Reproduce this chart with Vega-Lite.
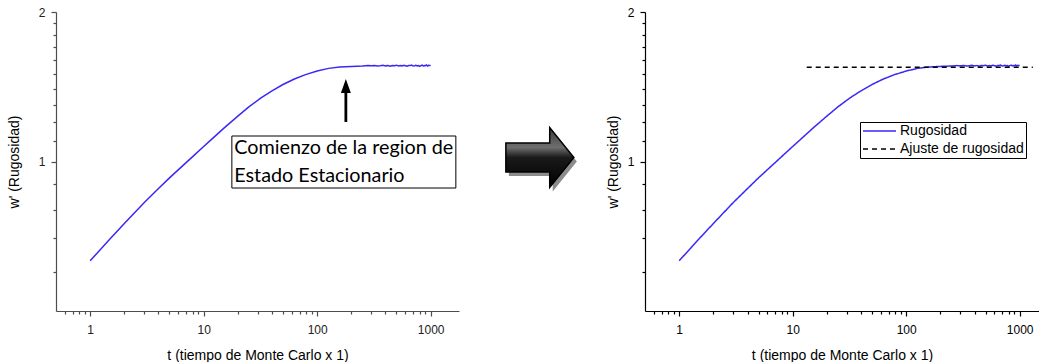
{
  "$schema": "https://vega.github.io/schema/vega-lite/v6.json",
  "autosize": "pad",
  "padding": {"left": 7, "top": 6, "right": 0, "bottom": 0},
  "bounds": "flush",
  "spacing": 186,
  "background": "white",
  "config": {
    "view": {"stroke": null},
    "font": "Liberation Sans",
    "axis": {
      "grid": false,
      "labelFont": "Liberation Sans",
      "titleFont": "Liberation Sans",
      "labelFontSize": 12,
      "titleFontSize": 14,
      "titleFontWeight": "normal",
      "labelColor": "#000000",
      "titleColor": "#000000",
      "domainColor": "#000000",
      "tickColor": "#000000",
      "domainWidth": 1.2,
      "tickWidth": 1.2,
      "labelOverlap": false,
      "labelFlush": false
    }
  },
  "datasets": {
    "w": [
      {"t": 1, "w": 0.631, "s": "Rugosidad"},
      {"t": 1.5, "w": 0.699, "s": "Rugosidad"},
      {"t": 2, "w": 0.75, "s": "Rugosidad"},
      {"t": 3, "w": 0.827, "s": "Rugosidad"},
      {"t": 4, "w": 0.882, "s": "Rugosidad"},
      {"t": 5, "w": 0.927, "s": "Rugosidad"},
      {"t": 6, "w": 0.963, "s": "Rugosidad"},
      {"t": 8, "w": 1.023, "s": "Rugosidad"},
      {"t": 10, "w": 1.072, "s": "Rugosidad"},
      {"t": 12, "w": 1.113, "s": "Rugosidad"},
      {"t": 15, "w": 1.166, "s": "Rugosidad"},
      {"t": 20, "w": 1.234, "s": "Rugosidad"},
      {"t": 25, "w": 1.288, "s": "Rugosidad"},
      {"t": 32, "w": 1.343, "s": "Rugosidad"},
      {"t": 40, "w": 1.388, "s": "Rugosidad"},
      {"t": 50, "w": 1.429, "s": "Rugosidad"},
      {"t": 63, "w": 1.466, "s": "Rugosidad"},
      {"t": 79, "w": 1.496, "s": "Rugosidad"},
      {"t": 100, "w": 1.521, "s": "Rugosidad"},
      {"t": 126, "w": 1.54, "s": "Rugosidad"},
      {"t": 158, "w": 1.55, "s": "Rugosidad"},
      {"t": 200, "w": 1.554, "s": "Rugosidad"},
      {"t": 251, "w": 1.557, "s": "Rugosidad"},
      {"t": 280, "w": 1.56, "s": "Rugosidad"},
      {"t": 300, "w": 1.558, "s": "Rugosidad"},
      {"t": 320, "w": 1.561, "s": "Rugosidad"},
      {"t": 340, "w": 1.557, "s": "Rugosidad"},
      {"t": 360, "w": 1.559, "s": "Rugosidad"},
      {"t": 380, "w": 1.562, "s": "Rugosidad"},
      {"t": 400, "w": 1.558, "s": "Rugosidad"},
      {"t": 420, "w": 1.56, "s": "Rugosidad"},
      {"t": 440, "w": 1.556, "s": "Rugosidad"},
      {"t": 460, "w": 1.561, "s": "Rugosidad"},
      {"t": 480, "w": 1.559, "s": "Rugosidad"},
      {"t": 500, "w": 1.563, "s": "Rugosidad"},
      {"t": 520, "w": 1.557, "s": "Rugosidad"},
      {"t": 540, "w": 1.56, "s": "Rugosidad"},
      {"t": 560, "w": 1.558, "s": "Rugosidad"},
      {"t": 580, "w": 1.562, "s": "Rugosidad"},
      {"t": 600, "w": 1.559, "s": "Rugosidad"},
      {"t": 620, "w": 1.556, "s": "Rugosidad"},
      {"t": 640, "w": 1.561, "s": "Rugosidad"},
      {"t": 660, "w": 1.56, "s": "Rugosidad"},
      {"t": 680, "w": 1.564, "s": "Rugosidad"},
      {"t": 700, "w": 1.557, "s": "Rugosidad"},
      {"t": 720, "w": 1.559, "s": "Rugosidad"},
      {"t": 740, "w": 1.562, "s": "Rugosidad"},
      {"t": 760, "w": 1.558, "s": "Rugosidad"},
      {"t": 780, "w": 1.561, "s": "Rugosidad"},
      {"t": 800, "w": 1.555, "s": "Rugosidad"},
      {"t": 820, "w": 1.56, "s": "Rugosidad"},
      {"t": 840, "w": 1.563, "s": "Rugosidad"},
      {"t": 860, "w": 1.558, "s": "Rugosidad"},
      {"t": 880, "w": 1.561, "s": "Rugosidad"},
      {"t": 900, "w": 1.559, "s": "Rugosidad"},
      {"t": 920, "w": 1.564, "s": "Rugosidad"},
      {"t": 940, "w": 1.557, "s": "Rugosidad"},
      {"t": 960, "w": 1.562, "s": "Rugosidad"},
      {"t": 980, "w": 1.56, "s": "Rugosidad"},
      {"t": 1000, "w": 1.561, "s": "Rugosidad"},
      {"t": 13.3, "w": 1.548, "s": "Ajuste de rugosidad"},
      {"t": 1306, "w": 1.548, "s": "Ajuste de rugosidad"}
    ],
    "box": [
      {"t": 17.72, "t2": 1667, "w": 1.1255, "w2": 0.8843}
    ],
    "note": [
      {"t": 18.6, "w": 1.0646, "label": "Comienzo de la region de"},
      {"t": 18.6, "w": 0.935, "label": "Estado Estacionario"}
    ],
    "shaft": [
      {"t": 179, "w": 1.2012, "w2": 1.385}
    ],
    "head": [
      {"t": 179, "w": 1.419}
    ],
    "shadow": [
      {"t": 9739, "w": 1.0}
    ],
    "bigArrow": [
      {"t": 9165, "w": 1.0187}
    ]
  },
  "hconcat": [
    {
      "width": 403,
      "height": 299,
      "encoding": {
        "x": {
          "field": "t", "type": "quantitative",
          "scale": {"type": "log", "domain": [0.5, 1777]},
          "axis": {
            "title": "t (tiempo de Monte Carlo x 1)",
            "values": [0.6, 0.7, 0.8, 0.9, 1, 2, 3, 4, 5, 6, 7, 8, 9, 10, 20, 30, 40, 50, 60, 70, 80, 90, 100, 200, 300, 400, 500, 600, 700, 800, 900, 1000],
            "format": "d",
            "labelExpr": "(datum.value == 1 || datum.value == 10 || datum.value == 100 || datum.value == 1000) ? datum.label : ''",
            "tickSize": {"condition": {"test": "datum.value == 1 || datum.value == 10 || datum.value == 100 || datum.value == 1000", "value": 5}, "value": 3},
            "labelPadding": 8,
            "titlePadding": 13,
            "domainColor": "#4d4d4d",
            "tickColor": "#4d4d4d",
            "labelColor": "#222222"
          }
        },
        "y": {
          "field": "w", "type": "quantitative",
          "scale": {"type": "log", "domain": [0.5, 2]},
          "axis": {
            "title": "w' (Rugosidad)",
            "values": [0.6, 0.7, 0.8, 0.9, 1, 1.1, 1.2, 1.3, 1.4, 1.5, 1.6, 1.7, 1.8, 1.9, 2],
            "labelExpr": "(datum.value == 1 || datum.value == 2) ? datum.label : ''",
            "tickSize": {"condition": {"test": "datum.value == 1 || datum.value == 2", "value": 5}, "value": 3},
            "labelPadding": 6,
            "titlePadding": 17,
            "domainColor": "#4d4d4d",
            "tickColor": "#4d4d4d",
            "labelColor": "#222222"
          }
        }
      },
      "layer": [
        {
          "data": {"name": "w"},
          "transform": [{"filter": "datum.s == 'Rugosidad'"}],
          "mark": {"type": "line", "color": "#3a28f5", "strokeWidth": 1.5}
        },
        {
          "data": {"name": "box"},
          "mark": {"type": "rect", "fill": "white", "stroke": "#000000", "strokeWidth": 1},
          "encoding": {
            "x2": {"field": "t2"},
            "y2": {"field": "w2"}
          }
        },
        {
          "data": {"name": "note"},
          "mark": {"type": "text", "font": "Lato", "fontSize": 19.8, "align": "left", "baseline": "middle", "color": "#000000"},
          "encoding": {
            "text": {"field": "label"}
          }
        },
        {
          "data": {"name": "shaft"},
          "mark": {"type": "rule", "color": "#000000", "strokeWidth": 2.8},
          "encoding": {
            "y2": {"field": "w2"}
          }
        },
        {
          "data": {"name": "head"},
          "mark": {"type": "point", "shape": "M0,-1L0.71,1L-0.71,1Z", "size": 196, "filled": true, "fill": "#000000", "opacity": 1}
        },
        {
          "data": {"name": "shadow"},
          "mark": {"type": "point", "shape": "M-1,-0.43L0.29,-0.43L0.29,-0.88L1,0L0.29,0.88L0.29,0.43L-1,0.43Z", "size": 4624, "filled": true, "fill": "#8c8c8c", "opacity": 1}
        },
        {
          "data": {"name": "bigArrow"},
          "mark": {
            "type": "point",
            "shape": "M-1,-0.43L0.29,-0.43L0.29,-0.88L1,0L0.29,0.88L0.29,0.43L-1,0.43Z",
            "size": 4624,
            "filled": true,
            "opacity": 1,
            "fill": {
              "gradient": "linear", "x1": 0, "y1": 0, "x2": 0, "y2": 1,
              "stops": [
                {"offset": 0, "color": "#3a3a3a"},
                {"offset": 0.33, "color": "#6e6e6e"},
                {"offset": 0.5, "color": "#1a1a1a"},
                {"offset": 1, "color": "#000000"}
              ]
            },
            "stroke": "#000000",
            "strokeWidth": 1.5
          }
        }
      ]
    },
    {
      "width": 394,
      "height": 299,
      "data": {"name": "w"},
      "mark": {"type": "line", "strokeWidth": 1.5},
      "encoding": {
        "x": {
          "field": "t", "type": "quantitative",
          "scale": {"type": "log", "domain": [0.5, 1480]},
          "axis": {
            "title": "t (tiempo de Monte Carlo x 1)",
            "values": [0.6, 0.7, 0.8, 0.9, 1, 2, 3, 4, 5, 6, 7, 8, 9, 10, 20, 30, 40, 50, 60, 70, 80, 90, 100, 200, 300, 400, 500, 600, 700, 800, 900, 1000],
            "format": "d",
            "labelExpr": "(datum.value == 1 || datum.value == 10 || datum.value == 100 || datum.value == 1000) ? datum.label : ''",
            "tickSize": {"condition": {"test": "datum.value == 1 || datum.value == 10 || datum.value == 100 || datum.value == 1000", "value": 5}, "value": 3},
            "labelPadding": 8,
            "titlePadding": 13
          }
        },
        "y": {
          "field": "w", "type": "quantitative",
          "scale": {"type": "log", "domain": [0.5, 2]},
          "axis": {
            "title": "w' (Rugosidad)",
            "values": [0.6, 0.7, 0.8, 0.9, 1, 1.1, 1.2, 1.3, 1.4, 1.5, 1.6, 1.7, 1.8, 1.9, 2],
            "labelExpr": "(datum.value == 1 || datum.value == 2) ? datum.label : ''",
            "tickSize": {"condition": {"test": "datum.value == 1 || datum.value == 2", "value": 5}, "value": 3},
            "labelPadding": 6,
            "titlePadding": 7
          }
        },
        "color": {
          "field": "s", "type": "nominal",
          "scale": {"domain": ["Rugosidad", "Ajuste de rugosidad"], "range": ["#3a28f5", "#000000"]},
          "legend": {
            "orient": "none", "legendX": 804, "legendY": 110, "title": null,
            "symbolType": "stroke", "symbolSize": 1089, "symbolStrokeWidth": 1.5,
            "clipHeight": 14,
            "labelFont": "Liberation Sans", "labelFontSize": 14, "labelColor": "#000000",
            "labelOffset": 3, "rowPadding": 4, "padding": 2,
            "strokeColor": "#000000", "fillColor": "white"
          }
        },
        "strokeDash": {
          "field": "s", "type": "nominal",
          "scale": {"domain": ["Rugosidad", "Ajuste de rugosidad"], "range": [[1, 0], [5, 4]]},
          "legend": {
            "orient": "none", "legendX": 804, "legendY": 110, "title": null,
            "symbolType": "stroke", "symbolSize": 1089, "symbolStrokeWidth": 1.5,
            "clipHeight": 14,
            "labelFont": "Liberation Sans", "labelFontSize": 14, "labelColor": "#000000",
            "labelOffset": 3, "rowPadding": 4, "padding": 2,
            "strokeColor": "#000000", "fillColor": "white"
          }
        }
      }
    }
  ]
}
